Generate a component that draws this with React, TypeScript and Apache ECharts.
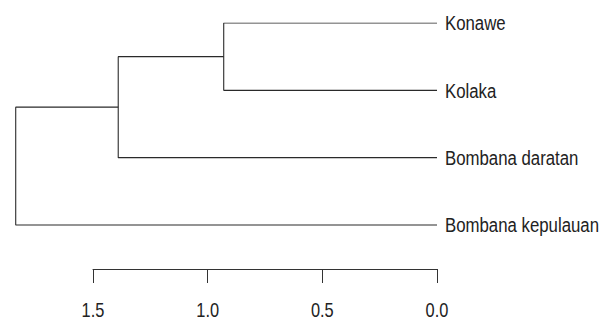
import React, { useEffect, useRef } from "react";
import * as echarts from "echarts";

// Leaves in dendrogram order (top to bottom)
const leaves = ["Konawe", "Kolaka", "Bombana daratan", "Bombana kepulauan"];
// R-style merge matrix: negative = leaf index (1-based), positive = earlier merge (1-based)
const mergeLeft = [-1, 1, 2];
const mergeRight = [-2, -3, -4];
const mergeHeights = [0.93, 1.39, 1.837];
// Axis ticks
const axisTicks = [0, 0.5, 1.0, 1.5];

const FONT = "'Liberation Sans', Arial, sans-serif";
const SQUASH = 0.8;

export default function App() {
  const ref = useRef<HTMLDivElement>(null);
  useEffect(() => {
    if (!ref.current) return;
    const chart = echarts.init(ref.current, null, { renderer: "svg" });

    const axisLeft = 93;
    const axisRight = 171;
    const axisMax = axisTicks[axisTicks.length - 1];
    const pxPerUnit = (608 - axisLeft - axisRight) / axisMax;
    const treeMax = 1.9;
    const treeLeft = 608 - axisRight - treeMax * pxPerUnit;

    // compute node positions
    const nodes: { y: number; h: number }[] = [];
    const get = (id: number) =>
      id < 0 ? { y: -id - 1, h: 0 } : nodes[id - 1];
    const segs: any[] = [];
    for (let i = 0; i < mergeHeights.length; i++) {
      const a = get(mergeLeft[i]);
      const b = get(mergeRight[i]);
      const H = mergeHeights[i];
      segs.push({
        type: "line",
        xAxisIndex: 0,
        yAxisIndex: 0,
        data: [
          [a.h, a.y],
          [H, a.y],
          [H, b.y],
          [b.h, b.y],
        ],
        showSymbol: false,
        symbol: "none",
        silent: true,
        lineStyle: { color: "#2a2a2a", width: 1.1 },
      });
      nodes.push({ y: (a.y + b.y) / 2, h: H });
    }

    chart.setOption({
      animation: false,
      backgroundColor: "#fff",
      grid: [
        { left: treeLeft, right: axisRight, top: 23, bottom: 51 },
        { left: axisLeft, right: axisRight, top: 23, bottom: 51 },
      ],
      xAxis: [
        {
          gridIndex: 0,
          type: "value",
          inverse: true,
          min: 0,
          max: treeMax,
          show: false,
        },
        {
          gridIndex: 1,
          type: "value",
          inverse: true,
          min: axisTicks[0],
          max: axisMax,
          interval: 0.5,
          position: "bottom",
          splitLine: { show: false },
          axisLine: { show: true, onZero: false, lineStyle: { color: "#333", width: 1 } },
          axisTick: { show: true, length: 14, lineStyle: { color: "#333" } },
          axisLabel: { show: false },
        },
      ],
      yAxis: [
        { gridIndex: 0, type: "value", inverse: true, min: 0, max: 3.6535, show: false },
        { gridIndex: 1, type: "value", inverse: true, min: 0, max: 3.6535, show: false },
      ],
      series: segs,
    });

    const graphics: any[] = [];
    leaves.forEach((name, i) => {
      const p = chart.convertToPixel({ xAxisIndex: 0, yAxisIndex: 0 }, [0, i]) as number[];
      graphics.push({
        type: "text",
        x: p[0] + 8,
        y: p[1],
        scaleX: SQUASH,
        silent: true,
        style: {
          text: name,
          fontSize: 21,
          lineHeight: 21,
          fontFamily: FONT,
          fill: "#222",
          align: "left",
          verticalAlign: "middle",
        },
      });
    });
    axisTicks.forEach((v) => {
      const x = chart.convertToPixel({ xAxisIndex: 1 }, v) as number;
      graphics.push({
        type: "text",
        x,
        y: 310,
        scaleX: 0.82,
        silent: true,
        style: {
          text: v.toFixed(1),
          fontSize: 20,
          lineHeight: 18,
          fontFamily: FONT,
          fill: "#222",
          align: "center",
          verticalAlign: "middle",
        },
      });
    });
    chart.setOption({ graphic: graphics });

    return () => chart.dispose();
  }, []);
  return (
    <div
      ref={ref}
      style={{ position: "fixed", left: 0, top: 0, width: 608, height: 320 }}
    />
  );
}
